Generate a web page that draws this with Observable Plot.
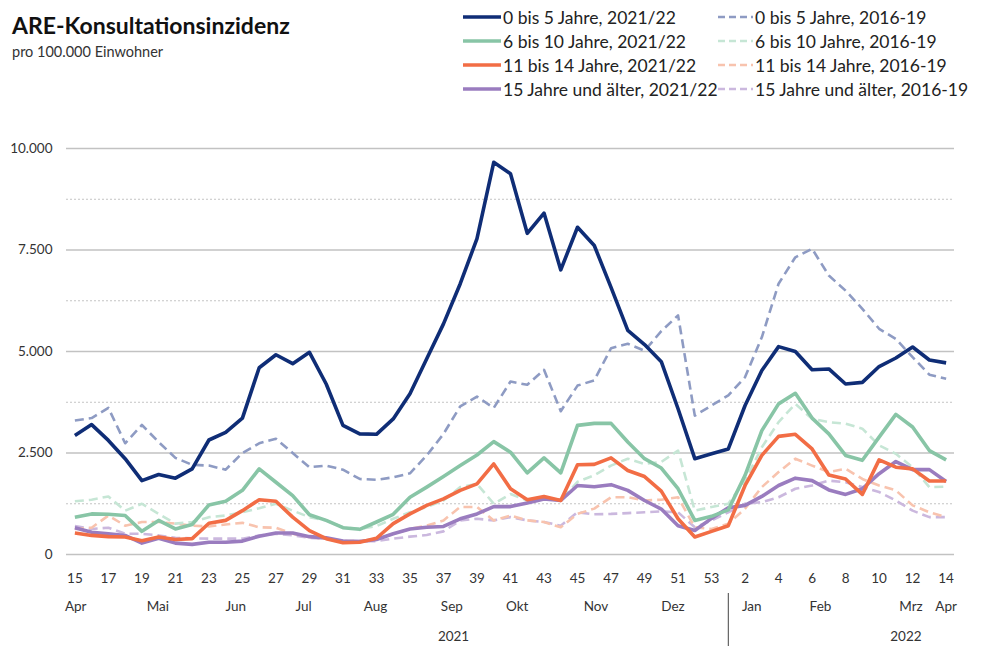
<!DOCTYPE html>
<html><head><meta charset="utf-8">
<script src="https://cdn.jsdelivr.net/npm/d3@7"></script>
<script src="https://cdn.jsdelivr.net/npm/@observablehq/plot@0.6"></script>
<style>
html,body{margin:0;padding:0;background:#fff;overflow:hidden;}
#wrap{position:relative;width:994px;height:646px;font-family:Lato,"Open Sans",sans-serif;color:#222;}
#head{position:relative;width:994px;height:110px;}
#title{position:absolute;left:12px;top:11px;font-size:23px;font-weight:700;color:#111;white-space:nowrap;}
#subtitle{position:absolute;left:12px;top:43px;font-size:14.5px;color:#333;white-space:nowrap;}
.leg{position:absolute;height:22px;display:flex;align-items:center;font-size:17.5px;color:#222;white-space:nowrap;}
.leg svg{margin-right:2px;}
#chart svg{display:block;}
</style></head>
<body><div id="wrap"><div id="head"><div id="title">ARE-Konsultationsinzidenz</div><div id="subtitle">pro 100.000 Einwohner</div></div><div id="chart"></div></div>
<script>
// calendar weeks (2021: 15..53, 2022: 1..14)
const weeks = [15,16,17,18,19,20,21,22,23,24,25,26,27,28,29,30,31,32,33,34,35,36,37,38,39,40,41,42,43,44,45,46,47,48,49,50,51,52,53,1,2,3,4,5,6,7,8,9,10,11,12,13,14];
const months = ["Apr","Mai","Jun","Jul","Aug","Sep","Okt","Nov","Dez","Jan","Feb","Mrz","Apr"];
const monthAt = [0.05,4.95,9.6,13.65,17.95,22.5,26.4,31.1,35.7,40.4,44.5,49.9,52];
const years = ["2021","2022"];
const yearAt = [22.6,49.6];
const yearBreak = [39];
const yTicks = [0,2500,5000,7500,10000];
const yMinor = [1250,3750,6250,8750];

const a0_5_2122 = [2930,3200,2810,2360,1820,1970,1880,2110,2820,3010,3360,4600,4920,4700,4980,4200,3180,2970,2960,3340,3960,4820,5680,6670,7780,9660,9380,7910,8410,7010,8060,7610,6580,5520,5170,4750,3590,2360,2480,2600,3670,4530,5120,5000,4550,4570,4200,4240,4630,4840,5110,4790,4720];
const a0_5_1619 = [3300,3360,3610,2740,3190,2770,2380,2210,2190,2090,2500,2740,2850,2500,2150,2190,2090,1860,1840,1900,2000,2440,2970,3650,3890,3610,4260,4180,4550,3530,4160,4290,5080,5190,5020,5500,5890,3420,3670,3920,4370,5350,6670,7320,7530,6870,6500,6050,5560,5310,4860,4430,4330];
const a6_10_2122 = [920,1000,990,960,570,840,630,740,1220,1310,1580,2110,1780,1450,980,840,660,620,800,990,1410,1660,1920,2190,2450,2780,2520,2010,2380,2010,3180,3230,3230,2770,2360,2130,1620,840,940,1100,1950,3050,3710,3970,3360,2970,2440,2320,2890,3450,3140,2560,2330];
const a6_10_1619 = [1310,1350,1430,1080,1250,1000,760,800,920,960,1040,1140,1250,1080,920,840,670,630,700,880,1040,1170,1330,1660,1740,1250,1490,1330,1410,1330,1790,1950,2190,2360,2230,2280,2560,1080,1170,1250,1820,2640,3260,3710,3340,3260,3220,3100,2690,2480,2150,1660,1670];
const a11_14_2122 = [530,470,440,430,340,430,370,390,770,840,1080,1350,1310,920,590,390,290,300,400,760,1000,1210,1370,1580,1740,2230,1620,1350,1430,1330,2210,2220,2380,2070,1920,1560,880,430,570,710,1700,2440,2910,2960,2600,1960,1860,1480,2330,2150,2110,1810,1810];
const a11_14_1619 = [630,660,960,710,800,800,760,710,690,740,780,670,660,510,430,390,330,330,370,510,630,710,840,1170,1170,840,960,840,800,670,1000,1130,1410,1410,1330,1350,1410,670,630,760,1130,1660,2030,2360,2190,2030,2110,1860,1700,1580,1210,1040,920];
const a15_2122 = [660,550,510,470,280,400,280,250,300,300,330,450,530,530,440,410,330,320,370,510,630,670,690,880,1000,1180,1180,1270,1370,1330,1700,1670,1720,1580,1330,1120,710,590,890,1150,1210,1430,1700,1880,1820,1590,1480,1620,1990,2290,2090,2090,1800];
const a15_1619 = [700,630,660,510,510,470,410,400,390,390,390,470,510,470,410,390,330,330,330,390,440,480,570,840,880,840,920,840,800,710,1040,990,1000,1020,1040,1060,1040,670,840,1040,1250,1290,1410,1620,1700,1820,1780,1660,1540,1330,1080,920,920];

const labels = ["0 bis 5 Jahre, 2021/22","6 bis 10 Jahre, 2021/22","11 bis 14 Jahre, 2021/22","15 Jahre und älter, 2021/22",
                "0 bis 5 Jahre, 2016-19","6 bis 10 Jahre, 2016-19","11 bis 14 Jahre, 2016-19","15 Jahre und älter, 2016-19"];
const values = [a0_5_2122,a6_10_2122,a11_14_2122,a15_2122,a0_5_1619,a6_10_1619,a11_14_1619,a15_1619];
const colors = ["#0f2d76","#88c5a6","#f26d45","#9a7cbf","#8e9bc3","#c6e6d5","#f8c3ae","#cbb8de"];
const dashed = [false,false,false,false,true,true,true,true];

const deFmt = d3.formatLocale({decimal:",",thousands:".",grouping:[3],currency:["","€"]}).format(",");

// legend
const head = document.getElementById("head");
labels.forEach((lab,k)=>{
  const col = k<4?0:1, row = k%4;
  const div = document.createElement("div");
  div.className="leg";
  div.style.left = (col===0?463:718)+"px";
  div.style.top = (6+row*24)+"px";
  const w = col===0?38:35;
  div.innerHTML = `<svg width="${w}" height="8"><line x1="0" y1="4" x2="${w}" y2="4" stroke="${colors[k]}" stroke-width="${dashed[k]?2.6:3.5}" ${dashed[k]?'stroke-dasharray="7,4"':''}/></svg><span>${lab}</span>`;
  head.appendChild(div);
});

const order = [7,6,5,4,3,2,1,0];
const chart = Plot.plot({
  width: 994, height: 536,
  marginTop: 38, marginBottom: 92, marginLeft: 66, marginRight: 40,
  style: {fontFamily: "Lato, 'Open Sans', sans-serif", fontSize: "13.5px", color: "#333", background: "#fff"},
  x: {type: "linear", domain: [-0.5, 52.5]},
  y: {domain: [0, 10000]},
  marks: [
    Plot.ruleY(yMinor, {stroke: "#c4c4c4", strokeWidth: 1, strokeDasharray: "2,2"}),
    Plot.ruleY(yTicks, {stroke: "#c2c2c2", strokeWidth: 1.3}),
    ...order.map(k => Plot.line(values[k], {
      x: (d,i) => i, y: d => d,
      stroke: colors[k], strokeWidth: dashed[k] ? 2.6 : 3.6,
      strokeDasharray: dashed[k] ? "9,5" : null,
      strokeLinejoin: "round", strokeLinecap: "butt"
    })),
    Plot.axisY({ticks: yTicks, tickSize: 0, tickPadding: 14, tickFormat: deFmt, label: null}),
    Plot.axisX({ticks: weeks.map((w,i)=>i).filter(i=>i%2===0), tickFormat: i => weeks[i], tickSize: 0, tickPadding: 19, label: null}),
    Plot.text(months, {x: (d,i) => monthAt[i], text: d => d, frameAnchor: "bottom", dy: 56, fill: "#333"}),
    Plot.text(years, {x: (d,i) => yearAt[i], text: d => d, frameAnchor: "bottom", dy: 86, fill: "#333"}),
    Plot.ruleX(yearBreak, {stroke: "#444", strokeWidth: 1, insetTop: 445, insetBottom: -92})
  ]
});
document.getElementById("chart").appendChild(chart);
</script></body></html>
